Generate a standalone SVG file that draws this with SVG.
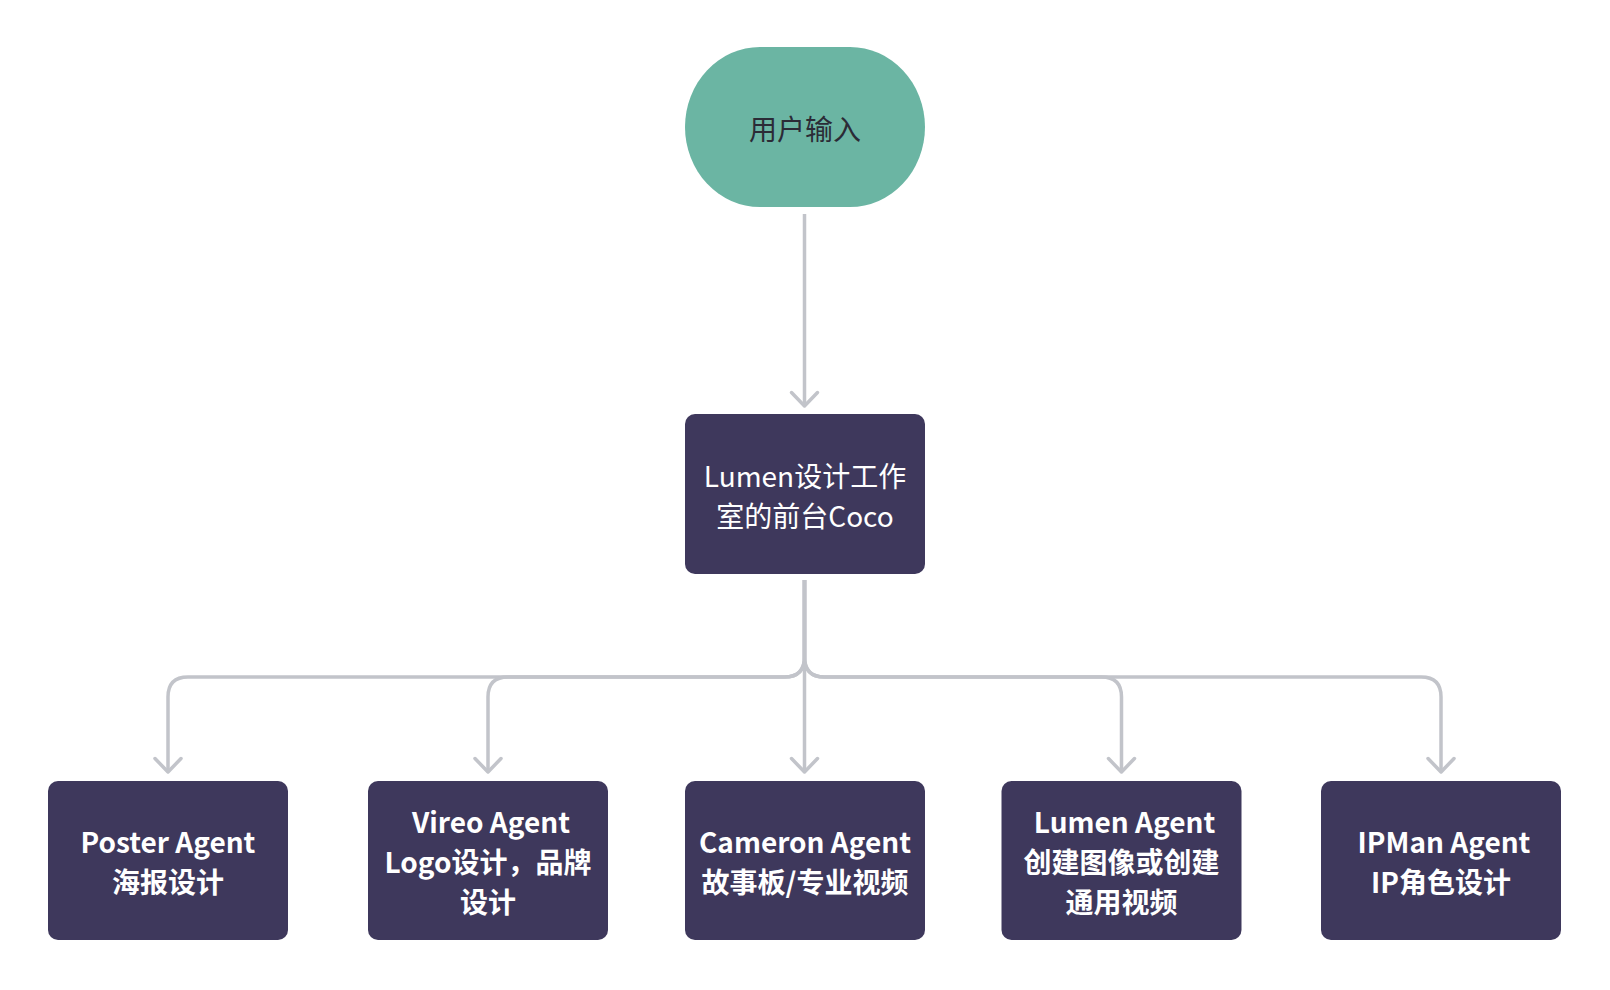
<svg xmlns="http://www.w3.org/2000/svg" width="1610" height="990" viewBox="0 0 1610 990">
<defs>
<style>
.node{fill:#3e385c;}
.start{fill:#6bb5a3;}
.t{font-family:"Noto Sans CJK SC","Noto Sans",sans-serif;font-size:28px;text-anchor:middle;}
.tw{fill:#ffffff;}
.b{font-weight:bold;}
.dark{fill:#2b2b36;}
.edge{fill:none;stroke:#c2c4ca;stroke-width:3.5;}
</style>
<marker id="arr" markerUnits="userSpaceOnUse" viewBox="-20 -16 24 32" refX="0" refY="0" markerWidth="24" markerHeight="32" orient="auto" overflow="visible">
<path d="M -13.5 -13 L 0 0 L -13.5 13" fill="none" stroke="#c2c4ca" stroke-width="3.5" stroke-linecap="round" stroke-linejoin="round"/>
</marker>
</defs>
<rect width="1610" height="990" fill="#ffffff"/>
<g id="connectors">
<path class="edge" d="M 804.5 214 V 406" marker-end="url(#arr)"/>
<path class="edge" d="M 804.5 580 V 657 Q 804.5 677 784.5 677 H 188 Q 168 677 168 697 V 772" marker-end="url(#arr)"/>
<path class="edge" d="M 804.5 580 V 657 Q 804.5 677 784.5 677 H 508 Q 488 677 488 697 V 772" marker-end="url(#arr)"/>
<path class="edge" d="M 804.5 580 V 772" marker-end="url(#arr)"/>
<path class="edge" d="M 804.5 580 V 657 Q 804.5 677 824.5 677 H 1101.5 Q 1121.5 677 1121.5 697 V 772" marker-end="url(#arr)"/>
<path class="edge" d="M 804.5 580 V 657 Q 804.5 677 824.5 677 H 1421 Q 1441 677 1441 697 V 772" marker-end="url(#arr)"/>
</g>
<g id="user-input">
<rect class="start" x="685" y="47" width="240" height="160" rx="75" ry="80"/>
<text class="t dark" x="805" y="140">用户输入</text>
</g>
<g id="coco">
<rect class="node" x="685" y="414" width="240" height="160" rx="10"/>
<text class="t tw" x="805" y="487">Lumen设计工作</text>
<text class="t tw" x="805" y="527">室的前台Coco</text>
</g>
<g id="poster">
<rect class="node" x="48" y="781" width="240" height="159" rx="10"/>
<text class="t tw b" x="168" y="853">Poster Agent</text>
<text class="t tw b" x="168" y="893">海报设计</text>
</g>
<g id="vireo">
<rect class="node" x="368" y="781" width="240" height="159" rx="10"/>
<text class="t tw b" x="491" y="833">Vireo Agent</text>
<text class="t tw b" x="488" y="873">Logo设计，品牌</text>
<text class="t tw b" x="488" y="913">设计</text>
</g>
<g id="cameron">
<rect class="node" x="685" y="781" width="240" height="159" rx="10"/>
<text class="t tw b" x="805" y="853">Cameron Agent</text>
<text class="t tw b" x="805" y="893">故事板/专业视频</text>
</g>
<g id="lumen">
<rect class="node" x="1001.5" y="781" width="240" height="159" rx="10"/>
<text class="t tw b" x="1124.5" y="833">Lumen Agent</text>
<text class="t tw b" x="1121.5" y="873">创建图像或创建</text>
<text class="t tw b" x="1121.5" y="913">通用视频</text>
</g>
<g id="ipman">
<rect class="node" x="1321" y="781" width="240" height="159" rx="10"/>
<text class="t tw b" x="1444" y="853">IPMan Agent</text>
<text class="t tw b" x="1441" y="893">IP角色设计</text>
</g>
</svg>
